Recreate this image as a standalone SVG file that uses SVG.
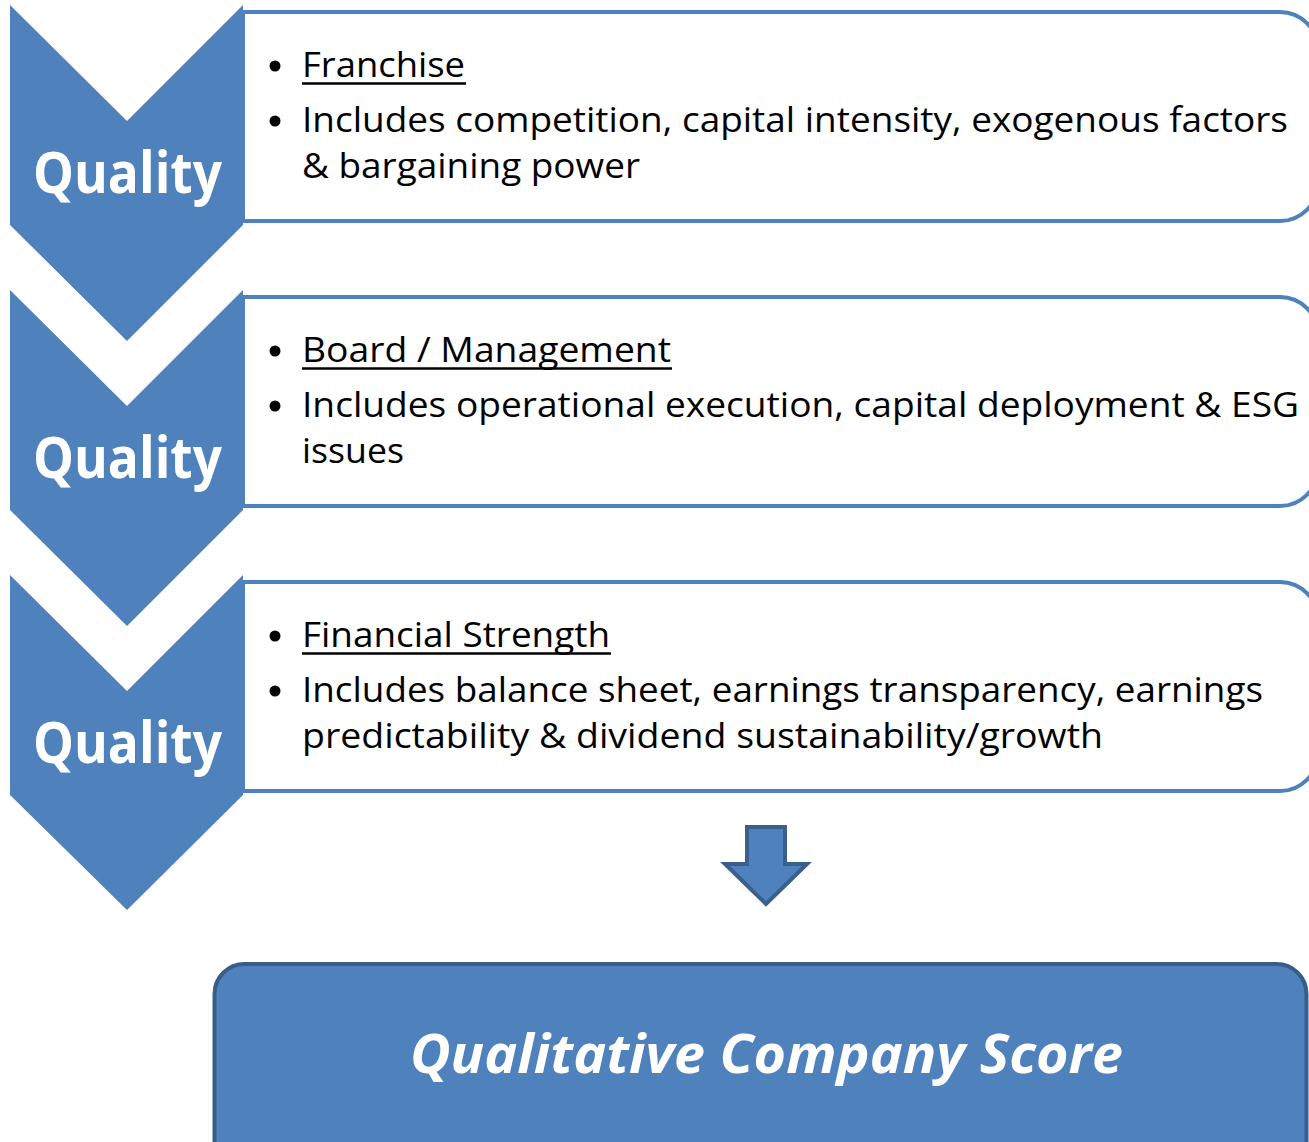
<svg xmlns="http://www.w3.org/2000/svg" width="1309" height="1142" viewBox="0 0 1309 1142">
  <style>
    .chev { fill: #4F81BD; }
    .card { fill: #FFFFFF; stroke: #4F81BD; stroke-width: 4; }
    .tag { font-family: "Open Sans", "Noto Sans", sans-serif; font-weight: 700; font-size: 57px; fill: #FFFFFF; }
    .body { font-family: "Open Sans", "Noto Sans", sans-serif; font-size: 34px; fill: #000000; }
    .ul { stroke: #000000; stroke-width: 2.5; }
    .dot { fill: #000000; }
    .score { fill: #4F81BD; stroke: #385D8A; stroke-width: 4; }
    .score-text { font-family: "Open Sans", "Noto Sans", sans-serif; font-weight: 700; font-style: italic; font-size: 53px; fill: #FFFFFF; }
    .arrow { fill: #4F81BD; stroke: #3A5F8F; stroke-width: 4; stroke-linejoin: miter; }
  </style>

  <!-- Step 1: Franchise -->
  <g id="step-franchise">
    <path class="card" d="M243,12 H1280 A38,38 0 0 1 1318,50 V183 A38,38 0 0 1 1280,221 H243 Z"/>
    <polygon class="chev" points="10,5 127,121 243,5 243,225 127,341 10,225"/>
    <text class="tag" x="33" y="193" textLength="189" lengthAdjust="spacingAndGlyphs">Quality</text>
    <circle class="dot" cx="275" cy="66" r="5.5"/>
    <text class="body" x="302" y="77" textLength="163" lengthAdjust="spacingAndGlyphs">Franchise</text>
    <line class="ul" x1="302" y1="83.5" x2="466" y2="83.5"/>
    <circle class="dot" cx="275" cy="121" r="5.5"/>
    <text class="body" x="302" y="132" textLength="986" lengthAdjust="spacingAndGlyphs">Includes competition, capital intensity, exogenous factors</text>
    <text class="body" x="302" y="178" textLength="338" lengthAdjust="spacingAndGlyphs">&amp; bargaining power</text>
  </g>

  <!-- Step 2: Board / Management -->
  <g id="step-board">
    <path class="card" d="M243,297 H1280 A38,38 0 0 1 1318,335 V468 A38,38 0 0 1 1280,506 H243 Z"/>
    <polygon class="chev" points="10,290 127,406 243,290 243,510 127,626 10,510"/>
    <text class="tag" x="33" y="478" textLength="189" lengthAdjust="spacingAndGlyphs">Quality</text>
    <circle class="dot" cx="275" cy="351" r="5.5"/>
    <text class="body" x="302" y="362" textLength="369" lengthAdjust="spacingAndGlyphs">Board / Management</text>
    <line class="ul" x1="302" y1="368.5" x2="672" y2="368.5"/>
    <circle class="dot" cx="275" cy="406" r="5.5"/>
    <text class="body" x="302" y="417" textLength="997" lengthAdjust="spacingAndGlyphs">Includes operational execution, capital deployment &amp; ESG</text>
    <text class="body" x="302" y="463" textLength="102" lengthAdjust="spacingAndGlyphs">issues</text>
  </g>

  <!-- Step 3: Financial Strength -->
  <g id="step-financial">
    <path class="card" d="M243,582 H1280 A38,38 0 0 1 1318,620 V753 A38,38 0 0 1 1280,791 H243 Z"/>
    <polygon class="chev" points="10,575 127,691 243,575 243,795 127,910 10,795"/>
    <text class="tag" x="33" y="763" textLength="189" lengthAdjust="spacingAndGlyphs">Quality</text>
    <circle class="dot" cx="275" cy="636" r="5.5"/>
    <text class="body" x="302" y="647" textLength="308" lengthAdjust="spacingAndGlyphs">Financial Strength</text>
    <line class="ul" x1="302" y1="653.5" x2="611" y2="653.5"/>
    <circle class="dot" cx="275" cy="691" r="5.5"/>
    <text class="body" x="302" y="702" textLength="961" lengthAdjust="spacingAndGlyphs">Includes balance sheet, earnings transparency, earnings</text>
    <text class="body" x="302" y="748" textLength="801" lengthAdjust="spacingAndGlyphs">predictability &amp; dividend sustainability/growth</text>
  </g>

  <!-- Down arrow leading to the overall score -->
  <g id="connectors">
    <polygon class="arrow" points="747,827 785,827 785,864 807,864 766,904 725,864 747,864"/>
  </g>

  <!-- Result -->
  <g id="result-score">
    <rect class="score" x="214.5" y="964" width="1092" height="210" rx="30" ry="30"/>
    <text class="score-text" x="766.5" y="1073" text-anchor="middle" textLength="713" lengthAdjust="spacingAndGlyphs">Qualitative Company Score</text>
  </g>
</svg>
